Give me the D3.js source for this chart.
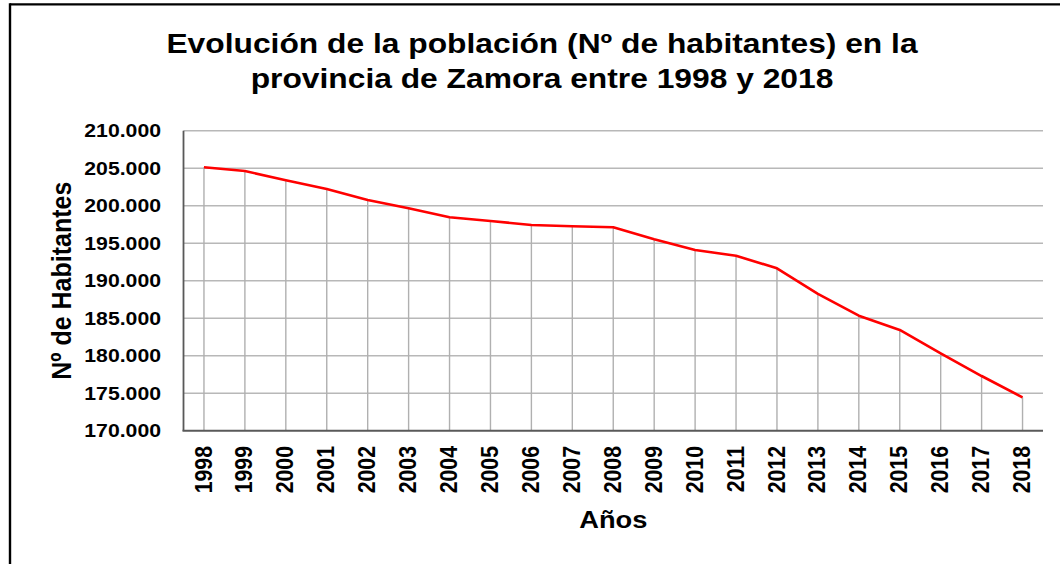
<!DOCTYPE html>
<html lang="es">
<head>
<meta charset="utf-8">
<title>Evolución de la población de Zamora 1998-2018</title>
<script src="https://cdn.jsdelivr.net/npm/d3@7/dist/d3.min.js"></script>
<style>
  html, body { margin: 0; padding: 0; background: #ffffff; }
  svg { display: block; }
  text { font-family: "Liberation Sans", Arial, sans-serif; font-weight: bold; fill: #000; }
</style>
</head>
<body>
<svg id="chart" width="1060" height="564"></svg>
<script>
// Población de la provincia de Zamora (Nº de habitantes), 1998-2018
const years = ["1998","1999","2000","2001","2002","2003","2004","2005","2006","2007",
               "2008","2009","2010","2011","2012","2013","2014","2015","2016","2017","2018"];
const population = [205120, 204630, 203390, 202230, 200760, 199650, 198450, 197960, 197430, 197250,
                    197120, 195520, 194090, 193330, 191650, 188230, 185330, 183430, 180320, 177290, 174450];
const yTicks = [170000, 175000, 180000, 185000, 190000, 195000, 200000, 205000, 210000];

const titleLines = ["Evolución de la población (Nº de habitantes) en la",
                    "provincia de Zamora entre 1998 y 2018"];
const yTitle = "Nº de Habitantes";
const xTitle = "Años";

// Text is drawn slightly wide
const SX = 1.135;

const svg = d3.select("#chart");
const W = 1060, H = 564;
const plot = { left: 183.5, right: 1043, top: 130.7, bottom: 430.7 };

const es = d3.formatLocale({ decimal: ",", thousands: ".", grouping: [3], currency: ["", " €"] });
const fmt = es.format(",.0f");

const x = d3.scaleBand().domain(years).range([plot.left, plot.right]);
const xc = d => x(d) + x.bandwidth() / 2;
const y = d3.scaleLinear().domain([170000, 210000]).range([plot.bottom, plot.top]);

// Outer frame (top and left edges)
svg.append("line").attr("x1", 10).attr("x2", W).attr("y1", 4.3).attr("y2", 4.3)
  .attr("stroke", "#000").attr("stroke-width", 2.2);
svg.append("line").attr("x1", 10).attr("x2", 10).attr("y1", 3.2).attr("y2", H)
  .attr("stroke", "#000").attr("stroke-width", 2.4);

// Title
const title = svg.append("g");
titleLines.forEach((t, i) => {
  title.append("text")
    .attr("transform", `translate(542,${52.7 + i * 35.6}) scale(${SX},1)`)
    .attr("text-anchor", "middle")
    .style("font-size", "28px")
    .text(t);
});

// Horizontal gridlines
svg.append("g")
  .selectAll("line")
  .data(yTicks.filter(v => v > 170000))
  .join("line")
  .attr("x1", plot.left).attr("x2", plot.right)
  .attr("y1", d => y(d)).attr("y2", d => y(d))
  .attr("stroke", "#b8b8b8").attr("stroke-width", 1.4);

// Drop lines from each point to the category axis
svg.append("g")
  .selectAll("line")
  .data(years)
  .join("line")
  .attr("x1", d => xc(d)).attr("x2", d => xc(d))
  .attr("y1", (d, i) => y(population[i])).attr("y2", plot.bottom)
  .attr("stroke", "#b0b0b0").attr("stroke-width", 1.4);

// Axes lines
svg.append("line").attr("x1", plot.left).attr("x2", plot.left)
  .attr("y1", plot.top).attr("y2", plot.bottom)
  .attr("stroke", "#595959").attr("stroke-width", 1.8);
svg.append("line").attr("x1", plot.left - 1).attr("x2", plot.right)
  .attr("y1", plot.bottom).attr("y2", plot.bottom)
  .attr("stroke", "#595959").attr("stroke-width", 2);

// Y tick labels
svg.append("g")
  .selectAll("text")
  .data(yTicks)
  .join("text")
  .attr("transform", d => `translate(161,${y(d) + 6.6}) scale(${SX},1)`)
  .attr("text-anchor", "end")
  .style("font-size", "18.7px")
  .text(d => fmt(d));

// X tick labels (vertical)
svg.append("g")
  .selectAll("text")
  .data(years)
  .join("text")
  .attr("transform", d => `translate(${xc(d) + 7.6},446) scale(${SX},1) rotate(-90)`)
  .attr("text-anchor", "end")
  .style("font-size", "21.3px")
  .text(d => d);

// Axis titles
svg.append("text")
  .attr("transform", `translate(70.5,${(plot.top + plot.bottom) / 2}) scale(${SX},1) rotate(-90)`)
  .attr("text-anchor", "middle")
  .style("font-size", "25px")
  .text(yTitle);

svg.append("text")
  .attr("transform", `translate(${(plot.left + plot.right) / 2},527.7) scale(${SX},1)`)
  .attr("text-anchor", "middle")
  .style("font-size", "24px")
  .text(xTitle);

// Population line
const line = d3.line()
  .x((d, i) => xc(years[i]))
  .y(d => y(d));

svg.append("path")
  .datum(population)
  .attr("d", line)
  .attr("fill", "none")
  .attr("stroke", "#ff0000")
  .attr("stroke-width", 2.6)
  .attr("stroke-linejoin", "round");
</script>
</body>
</html>
